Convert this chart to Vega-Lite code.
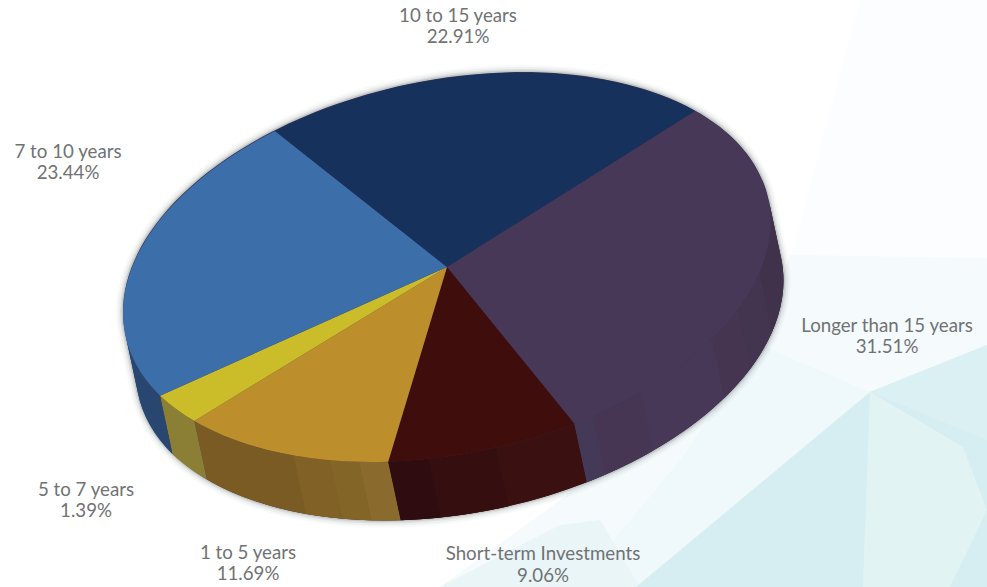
{
  "$schema": "https://vega.github.io/schema/vega-lite/v6.json",
  "width": 987,
  "height": 587,
  "padding": 0,
  "autosize": {"type": "fit", "contains": "padding"},
  "background": "#ffffff",
  "config": {"view": {"stroke": null}},
  "datasets": {
    "slices": [
      {"slice": "Longer than 15 years", "value": 31.51},
      {"slice": "Short-term Investments", "value": 9.06},
      {"slice": "1 to 5 years", "value": 11.69},
      {"slice": "5 to 7 years", "value": 1.39},
      {"slice": "7 to 10 years", "value": 23.44},
      {"slice": "10 to 15 years", "value": 22.91}
    ],
    "wash": [
      {"patch": "top"},
      {"patch": "haze"},
      {"patch": "band"},
      {"patch": "lower"},
      {"patch": "main"},
      {"patch": "edge"},
      {"patch": "facet"}
    ],
    "bands": [
      {"band": "p1"}, {"band": "p2"}, {"band": "p3"}, {"band": "p4"}, {"band": "p5"},
      {"band": "o1"}, {"band": "o2"}, {"band": "o3"},
      {"band": "r1"}, {"band": "r2"}
    ]
  },
  "encoding": {
    "x": {"datum": 0, "type": "quantitative", "scale": {"domain": [0, 987], "nice": false, "zero": false}, "axis": null},
    "y": {"datum": 0, "type": "quantitative", "scale": {"domain": [587, 0], "nice": false, "zero": false}, "axis": null},
    "size": {"value": 4}
  },
  "layer": [
    {
      "data": {"name": "wash"},
      "mark": {"type": "point", "filled": true, "opacity": 1, "strokeWidth": 0},
      "encoding": {
        "shape": {"field": "patch", "type": "nominal", "legend": null, "scale": {
          "domain": ["top", "haze", "band", "lower", "main", "edge", "facet"],
          "range": [
            "M860 0 L987 0 L987 260 L790 260 Z",
            "M790 255 L987 258 L987 345 L870 392 L640 587 L440 587 L560 500 L760 340 Z",
            "M760 345 L870 392 L638 587 L575 587 L680 460 Z",
            "M440 587 L560 525 L600 520 L640 587 Z",
            "M870 392 L987 345 L987 587 L636 587 Z",
            "M870 392 L987 345 L987 440 Z",
            "M870 392 L963 447 L987 510 L950 587 L863 587 Z"
          ]
        }},
        "color": {"field": "patch", "type": "nominal", "legend": null, "scale": {
          "domain": ["top", "haze", "band", "lower", "main", "edge", "facet"],
          "range": ["#fbfdfe", "#f5fbfc", "#eff8fa", "#e9f5f7", "#d6eef2", "#daf0f3", "#e2f3f4"]
        }}
      }
    },
    {
      "data": {"values": [{"offset": 4}]},
      "mark": {"type": "point", "filled": false, "stroke": "#1c2a2a", "strokeOpacity": 0.04, "strokeWidth": 14, "shape": "M781.2 258.5 A328.6 187 -11.77 0 1 137.8 392.5 L125.3 334 A328.6 187 -11.77 0 1 768.7 200 Z"},
      "encoding": {"x": {"field": "offset", "type": "quantitative"}, "y": {"field": "offset", "type": "quantitative"}}
    },
    {
      "data": {"values": [{"offset": 4}]},
      "mark": {"type": "point", "filled": false, "stroke": "#1c2a2a", "strokeOpacity": 0.06, "strokeWidth": 10, "shape": "M781.2 258.5 A328.6 187 -11.77 0 1 137.8 392.5 L125.3 334 A328.6 187 -11.77 0 1 768.7 200 Z"},
      "encoding": {"x": {"field": "offset", "type": "quantitative"}, "y": {"field": "offset", "type": "quantitative"}}
    },
    {
      "data": {"values": [{"offset": 4}]},
      "mark": {"type": "point", "filled": false, "stroke": "#1c2a2a", "strokeOpacity": 0.1, "strokeWidth": 6, "shape": "M781.2 258.5 A328.6 187 -11.77 0 1 137.8 392.5 L125.3 334 A328.6 187 -11.77 0 1 768.7 200 Z"},
      "encoding": {"x": {"field": "offset", "type": "quantitative"}, "y": {"field": "offset", "type": "quantitative"}}
    },
    {
      "data": {"values": [{"offset": 4}]},
      "mark": {"type": "point", "filled": false, "stroke": "#1c2a2a", "strokeOpacity": 0.18, "strokeWidth": 3, "shape": "M781.2 258.5 A328.6 187 -11.77 0 1 137.8 392.5 L125.3 334 A328.6 187 -11.77 0 1 768.7 200 Z"},
      "encoding": {"x": {"field": "offset", "type": "quantitative"}, "y": {"field": "offset", "type": "quantitative"}}
    },
    {
      "description": "Solid body of the cylinder, so no seams open between its faces",
      "data": {"values": [{"part": "body"}]},
      "mark": {"type": "point", "filled": true, "opacity": 1, "strokeWidth": 0, "fill": "#3c3452", "shape": "M781.2 258.5 A328.6 187 -11.77 0 1 137.8 392.5 L125.3 334 A328.6 187 -11.77 0 1 768.7 200 Z"}
    },
    {
      "data": {"name": "slices"},
      "transform": [{"filter": "datum.slice !== '10 to 15 years'"}],
      "mark": {"type": "point", "filled": true, "opacity": 1, "strokeWidth": 0},
      "encoding": {
        "shape": {"field": "slice", "type": "nominal", "legend": null, "scale": {
          "domain": ["Longer than 15 years", "Short-term Investments", "1 to 5 years", "5 to 7 years", "7 to 10 years"],
          "range": [
            "M768.7 200 A328.6 187 -11.77 0 1 574.4 423.7 L586.9 482.2 A328.6 187 -11.77 0 0 781.2 258.5 Z",
            "M574.4 423.7 A328.6 187 -11.77 0 1 388.2 461.7 L400.7 520.2 A328.6 187 -11.77 0 0 586.9 482.2 Z",
            "M388.2 461.7 A328.6 187 -11.77 0 1 194.4 420.9 L206.9 479.4 A328.6 187 -11.77 0 0 400.7 520.2 Z",
            "M194.4 420.9 A328.6 187 -11.77 0 1 160 395.7 L172.5 454.2 A328.6 187 -11.77 0 0 206.9 479.4 Z",
            "M160 395.7 A328.6 187 -11.77 0 1 125.3 334 L137.8 392.5 A328.6 187 -11.77 0 0 172.5 454.2 Z"
          ]
        }},
        "color": {"field": "slice", "type": "nominal", "legend": null, "scale": {
          "domain": ["Longer than 15 years", "Short-term Investments", "1 to 5 years", "5 to 7 years", "7 to 10 years"],
          "range": ["#483857", "#3a1011", "#7a5b24", "#8a7f35", "#28466f"]
        }}
      }
    },
    {
      "data": {"name": "bands"},
      "mark": {"type": "point", "filled": true, "opacity": 1, "strokeWidth": 0},
      "encoding": {
        "shape": {"field": "band", "type": "nominal", "legend": null, "scale": {
          "domain": ["p1", "p2", "p3", "p4", "p5", "o1", "o2", "o3", "r1", "r2"],
          "range": [
            "M768.7 200 A328.6 187 -11.77 0 1 759.5 273.6 L772 332.1 A328.6 187 -11.77 0 0 781.2 258.5 Z",
            "M759.5 273.6 A328.6 187 -11.77 0 1 737.7 310.6 L750.2 369.1 A328.6 187 -11.77 0 0 772 332.1 Z",
            "M737.7 310.6 A328.6 187 -11.77 0 1 711.5 339.7 L724 398.2 A328.6 187 -11.77 0 0 750.2 369.1 Z",
            "M640.9 392.1 A328.6 187 -11.77 0 1 592.8 416.1 L605.3 474.6 A328.6 187 -11.77 0 0 653.4 450.6 Z",
            "M592.8 416.1 A328.6 187 -11.77 0 1 574.4 423.7 L586.9 482.2 A328.6 187 -11.77 0 0 605.3 474.6 Z",
            "M329.7 460.1 A328.6 187 -11.77 0 1 293.6 455.5 L306.1 514 A328.6 187 -11.77 0 0 342.2 518.6 Z",
            "M359 461.9 A328.6 187 -11.77 0 1 329.7 460.1 L342.2 518.6 A328.6 187 -11.77 0 0 371.5 520.4 Z",
            "M388.2 461.7 A328.6 187 -11.77 0 1 359 461.9 L371.5 520.4 A328.6 187 -11.77 0 0 400.7 520.2 Z",
            "M428.5 459.1 A328.6 187 -11.77 0 1 388.2 461.7 L400.7 520.2 A328.6 187 -11.77 0 0 441 517.6 Z",
            "M496.3 447.7 A328.6 187 -11.77 0 1 428.5 459.1 L441 517.6 A328.6 187 -11.77 0 0 508.8 506.2 Z"
          ]
        }},
        "color": {"field": "band", "type": "nominal", "legend": null, "scale": {
          "domain": ["p1", "p2", "p3", "p4", "p5", "o1", "o2", "o3", "r1", "r2"],
          "range": ["#3f324a", "#43344f", "#453551", "#463653", "#443a58", "#816126", "#846528", "#8a6b2d", "#2e0c10", "#350e10"]
        }}
      }
    },
    {
      "data": {"name": "slices"},
      "mark": {"type": "point", "filled": true, "opacity": 1, "strokeWidth": 0},
      "encoding": {
        "shape": {"field": "slice", "type": "nominal", "legend": null, "scale": {
          "domain": ["Longer than 15 years", "Short-term Investments", "1 to 5 years", "5 to 7 years", "7 to 10 years", "10 to 15 years"],
          "range": [
            "M447 267 L695 111 A328.6 187 -11.77 0 1 574.4 423.7 Z",
            "M447 267 L574.4 423.7 A328.6 187 -11.77 0 1 388.2 461.7 Z",
            "M447 267 L388.2 461.7 A328.6 187 -11.77 0 1 194.4 420.9 Z",
            "M447 267 L194.4 420.9 A328.6 187 -11.77 0 1 160 395.7 Z",
            "M447 267 L160 395.7 A328.6 187 -11.77 0 1 275 131 Z",
            "M447 267 L275 131 A328.6 187 -11.77 0 1 695 111 Z"
          ]
        }},
        "color": {"field": "slice", "type": "nominal", "legend": null, "scale": {
          "domain": ["Longer than 15 years", "Short-term Investments", "1 to 5 years", "5 to 7 years", "7 to 10 years", "10 to 15 years"],
          "range": ["#483858", "#400d0d", "#bd8f2c", "#cbbd29", "#3c6fa9", "#16315c"]
        }}
      }
    },
    {
      "data": {"name": "slices"},
      "transform": [
        {"filter": "datum.slice === '10 to 15 years'"},
        {"calculate": "[datum.slice, format(datum.value, '.2f') + '%']", "as": "caption"}
      ],
      "mark": {"type": "text", "font": "Lato", "fontSize": 18.7, "lineHeight": 20.5, "align": "center", "baseline": "alphabetic", "color": "#707275"},
      "encoding": {"x": {"datum": 458}, "y": {"datum": 22}, "text": {"field": "caption"}, "size": {"value": 18.7}}
    },
    {
      "data": {"name": "slices"},
      "transform": [
        {"filter": "datum.slice === '7 to 10 years'"},
        {"calculate": "[datum.slice, format(datum.value, '.2f') + '%']", "as": "caption"}
      ],
      "mark": {"type": "text", "font": "Lato", "fontSize": 18.7, "lineHeight": 20.5, "align": "center", "baseline": "alphabetic", "color": "#707275"},
      "encoding": {"x": {"datum": 68}, "y": {"datum": 158}, "text": {"field": "caption"}, "size": {"value": 18.7}}
    },
    {
      "data": {"name": "slices"},
      "transform": [
        {"filter": "datum.slice === 'Longer than 15 years'"},
        {"calculate": "[datum.slice, format(datum.value, '.2f') + '%']", "as": "caption"}
      ],
      "mark": {"type": "text", "font": "Lato", "fontSize": 18.7, "lineHeight": 20.5, "align": "center", "baseline": "alphabetic", "color": "#707275"},
      "encoding": {"x": {"datum": 887}, "y": {"datum": 332}, "text": {"field": "caption"}, "size": {"value": 18.7}}
    },
    {
      "data": {"name": "slices"},
      "transform": [
        {"filter": "datum.slice === '5 to 7 years'"},
        {"calculate": "[datum.slice, format(datum.value, '.2f') + '%']", "as": "caption"}
      ],
      "mark": {"type": "text", "font": "Lato", "fontSize": 18.7, "lineHeight": 20.5, "align": "center", "baseline": "alphabetic", "color": "#707275"},
      "encoding": {"x": {"datum": 86}, "y": {"datum": 496}, "text": {"field": "caption"}, "size": {"value": 18.7}}
    },
    {
      "data": {"name": "slices"},
      "transform": [
        {"filter": "datum.slice === '1 to 5 years'"},
        {"calculate": "[datum.slice, format(datum.value, '.2f') + '%']", "as": "caption"}
      ],
      "mark": {"type": "text", "font": "Lato", "fontSize": 18.7, "lineHeight": 20.5, "align": "center", "baseline": "alphabetic", "color": "#707275"},
      "encoding": {"x": {"datum": 248}, "y": {"datum": 559}, "text": {"field": "caption"}, "size": {"value": 18.7}}
    },
    {
      "data": {"name": "slices"},
      "transform": [
        {"filter": "datum.slice === 'Short-term Investments'"},
        {"calculate": "[datum.slice, format(datum.value, '.2f') + '%']", "as": "caption"}
      ],
      "mark": {"type": "text", "font": "Lato", "fontSize": 18.7, "lineHeight": 21.5, "align": "center", "baseline": "alphabetic", "color": "#707275"},
      "encoding": {"x": {"datum": 543}, "y": {"datum": 560}, "text": {"field": "caption"}, "size": {"value": 18.7}}
    }
  ],
  "resolve": {"scale": {"shape": "independent", "color": "independent"}}
}
